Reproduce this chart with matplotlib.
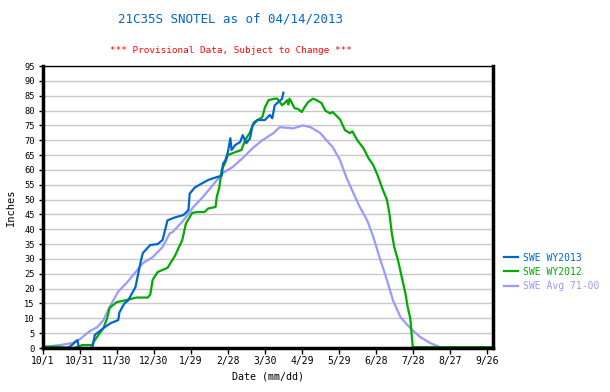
import matplotlib
matplotlib.use("Agg")
import matplotlib.pyplot as plt

# day of water year (0 = 10/1), SWE in inches
wy2013_day = [0, 20, 24, 28, 29, 40, 42, 50, 55, 61, 62, 66, 69, 75, 79, 81, 87, 93,
              97, 99, 101, 107, 114, 118, 119, 123, 127, 134, 141, 145, 146, 148, 150,
              152, 153, 156, 160, 162, 165, 168, 170, 174, 180, 184, 186, 187, 188,
              190, 194, 195]
wy2013_swe = [0, 0, 1.2, 2.7, 0, 0, 4.4, 7, 8.4, 9.4, 12, 15, 16, 20.5, 28.6, 32, 34.7,
              35, 36.4, 39.7, 43, 44, 44.8, 46.5, 52, 54, 55, 56.6, 57.6, 58, 62, 63.3,
              66, 70.7, 66.7, 68.4, 69.4, 71.7, 69, 70.7, 75, 76.8, 76.8, 78.5, 77.4,
              79.5, 81.8, 82.5, 84, 86]

wy2012_day = [0, 8, 25, 32, 40, 41, 45, 49, 52, 54, 60, 66, 76, 85, 87, 89, 93, 101,
              107, 113, 116, 121, 125, 131, 134, 140, 141, 143, 145, 148, 150, 156,
              161, 164, 168, 171, 174, 178, 180, 183, 188, 190, 194, 196, 198, 199,
              200, 202, 204, 207, 210, 212, 215, 219, 222, 226, 229, 233, 235, 241,
              245, 249, 251, 255, 260, 264, 268, 272, 276, 279, 281, 283, 285, 288,
              291, 294, 296, 298, 299, 300, 365]
wy2012_swe = [0.5, 0.5, 0, 1, 1, 2, 4.4, 6.7, 10, 13.5, 15.5, 16, 17, 17, 18, 23, 25.6,
              27, 31, 36.4, 42, 45.5, 45.8, 45.8, 47, 47.5, 51, 54, 60, 62.6, 65, 66,
              66.7, 70, 72.7, 76, 76.8, 77.8, 81, 83.5, 84, 84, 81.8, 82.5, 83.5, 82,
              84, 82.5, 80.8, 80.5, 79.5, 81, 82.8, 84, 83.5, 82.5, 80, 79, 79.5, 77,
              73.4, 72.4, 73, 70, 67.3, 64, 61.6, 57.6, 53, 50, 45.5, 38.7, 34, 29.6,
              24, 18.5, 13.5, 10, 5, 0.3, 0.3]

avg_day = [0, 8, 14, 24, 30, 38, 44, 49, 54, 61, 68, 76, 81, 89, 97, 103, 105, 114,
           122, 130, 138, 146, 154, 162, 170, 178, 187, 192, 203, 211, 217, 225, 230,
           235, 241, 246, 252, 257, 263, 268, 273, 279, 284, 290, 298, 306, 314, 322,
           330, 355, 358, 361, 365]
avg_swe = [0, 0.7, 1, 1.7, 3, 5.7, 7, 9.4, 13.8, 19, 22, 26, 28.6, 30.6, 34, 38.7, 39,
           43, 47.5, 51, 55, 59, 61, 64, 67.3, 70, 72.4, 74.4, 74, 75, 74.4, 72.4, 70,
           67.7, 63.3, 57.6, 52, 47.5, 43, 37.4, 30.6, 23, 16, 10.4, 6.7, 3.7, 1.7,
           0.3, 0, 0, 0.3, 0, 0]

tick_days = list(range(0, 361, 30))
tick_labels = ["10/1", "10/31", "11/30", "12/30", "1/29", "2/28", "3/30", "4/29",
               "5/29", "6/28", "7/28", "8/27", "9/26"]

mono = "DejaVu Sans Mono"

fig = plt.figure(figsize=(6.1, 3.92), dpi=100)
ax = fig.add_axes([0.0705, 0.1122, 0.7375, 0.7194])

ax.plot(avg_day, avg_swe, color="#9999ff", lw=1.6, label="SWE Avg 71-00")
ax.plot(wy2012_day, wy2012_swe, color="#00aa00", lw=1.6, label="SWE WY2012")
ax.plot(wy2013_day, wy2013_swe, color="#0066cc", lw=1.6, label="SWE WY2013")

ax.set_xlim(0, 365)
ax.set_ylim(0, 95)
ax.set_yticks(range(0, 96, 5))
ax.set_xticks(tick_days)
ax.set_xticklabels(tick_labels, fontsize=7, family=mono)
ax.tick_params(axis="y", labelsize=6.3, length=3, width=1, pad=3)
ax.tick_params(axis="x", length=4, width=1, pad=2)
for lab in ax.get_yticklabels():
    lab.set_family(mono)
ax.grid(axis="y", color="#c8c8c8", lw=1)
ax.set_axisbelow(True)

for side, w in [("left", 2.5), ("bottom", 2.5), ("right", 2.5), ("top", 1)]:
    ax.spines[side].set_linewidth(w)
    ax.spines[side].set_color("black")

ax.set_ylabel("Inches", fontsize=7.5, family=mono, labelpad=6)
ax.set_xlabel("Date (mm/dd)", fontsize=7.2, family=mono, labelpad=4)

fig.text(0.378, 0.952, "21C35S SNOTEL as of 04/14/2013", color="#0066cc",
         fontsize=9, family=mono, ha="center", va="center")
fig.text(0.378, 0.872, "*** Provisional Data, Subject to Change ***", color="#ff0000",
         fontsize=6.7, family=mono, ha="center", va="center")

handles, labels = ax.get_legend_handles_labels()
leg = ax.legend(handles[::-1], labels[::-1], loc="center left",
                bbox_to_anchor=(1.005, 0.27), frameon=False,
                prop={"family": mono, "size": 7}, handlelength=1.45,
                handletextpad=0.5, labelspacing=0.45)
for txt, h in zip(leg.get_texts(), handles[::-1]):
    txt.set_color(h.get_color())

fig.savefig("out.png", dpi=100)
